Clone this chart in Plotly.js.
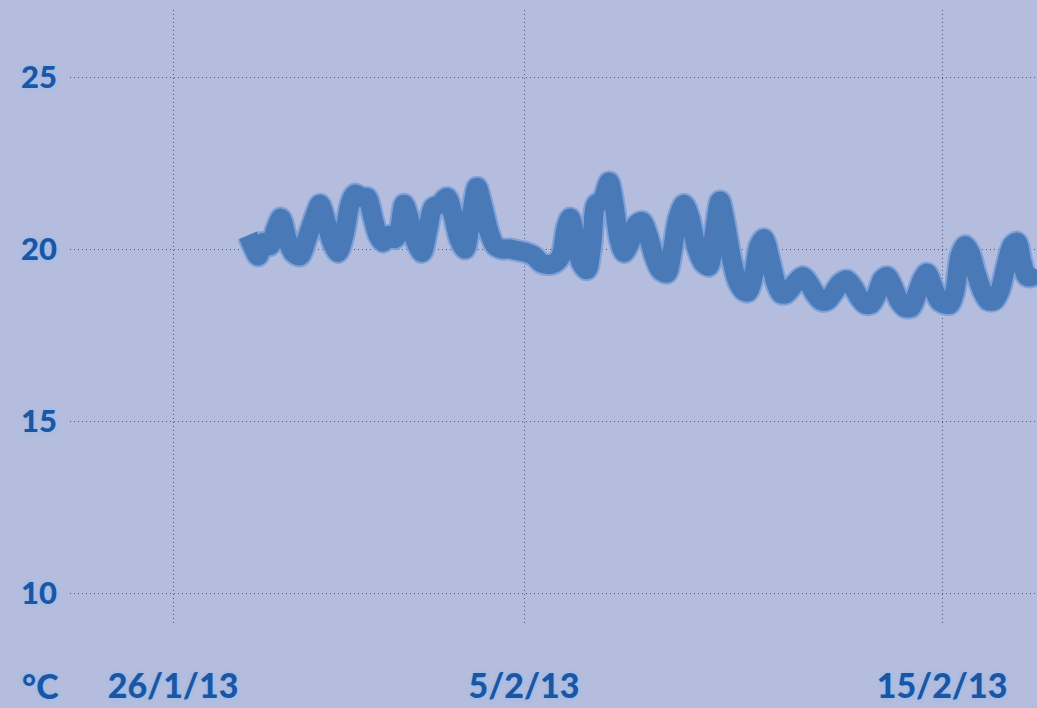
<!DOCTYPE html>
<html>
<head>
<meta charset="utf-8">
<script src="https://cdn.plot.ly/plotly-3.0.1.min.js"></script>
<style>
  html, body { margin: 0; padding: 0; background: #b4bddd; }
  #chart { width: 1037px; height: 708px; }
</style>
</head>
<body>
<div id="chart"></div>
<script>
// Reading number (position along the time axis) and temperature in °C
const readings = [178,184,188,194,200,206,211,217,223,230,237,244,250,256,262,268,274,280,285,291,297,303,308,313,319,325,329,334,340,346,352,358,363,370,377,383,389,395,401,407,413,419,425,432,440,448,456,464,471,478,485,491,496,500,505,511,517,522,526,532,539,544,549,554,560,566,572,578,584,590,597,602,608,614,620,626,633,639,644,650,655,661,667,673,678,684,689,694,700,706,711,716,722,728,733,739,745,751,757,763,770,777,783,789,795,801,807,812,817,823,829,835,841,847,852,857,863,869,875,880,885,890,895,900,906,912,918,924,930,936,942,947,952,957,962,967];
const temperature = [20.4,20.0,19.8,20.2,20.1,20.6,20.9,20.3,19.9,19.8,20.3,20.9,21.3,20.8,20.2,19.9,20.4,21.3,21.6,21.5,21.5,20.9,20.4,20.2,20.4,20.3,20.5,21.3,20.8,20.2,19.9,20.6,21.2,21.3,21.5,21.0,20.3,20.0,20.9,21.8,21.2,20.5,20.1,20.0,20.0,19.95,19.9,19.8,19.6,19.55,19.6,19.8,20.6,20.9,20.4,19.6,19.4,20.2,21.3,21.4,21.95,21.3,20.3,19.9,20.2,20.7,20.8,20.4,19.8,19.4,19.3,19.9,20.9,21.3,20.9,20.1,19.6,19.5,20.4,21.4,20.8,19.8,19.1,18.8,18.75,19.3,20.1,20.3,19.7,19.0,18.7,18.7,18.9,19.1,19.2,19.0,18.7,18.5,18.5,18.7,19.0,19.1,18.9,18.6,18.4,18.4,18.7,19.1,19.2,18.9,18.5,18.3,18.3,18.7,19.1,19.3,18.9,18.5,18.4,18.4,18.8,19.8,20.1,19.9,19.3,18.8,18.5,18.5,18.8,19.5,20.1,20.2,19.6,19.2,19.2,19.4];

const dateTickPositions = [103, 454, 872];
const dateTickLabels = ['26/1/13', '5/2/13', '15/2/13'];
const tempTicks = [10, 15, 20, 25];
const unitLabel = '°C';

const baseFont = {
  family: 'Lato, "DejaVu Sans", sans-serif',
  weight: 900,
  color: '#1b56a4',
  shadow: '0px 0px 4px #8cbaf2'
};
const yFont = Object.assign({}, baseFont, { size: 31 });
const xFont = Object.assign({}, baseFont, { size: 34 });

const traces = [
  {
    x: readings, y: temperature, type: 'scatter', mode: 'lines',
    line: { color: '#7fa2d8', width: 23, shape: 'spline', smoothing: 0.8 },
    hoverinfo: 'skip', showlegend: false
  },
  {
    x: readings, y: temperature, type: 'scatter', mode: 'lines',
    line: { color: '#4a79b8', width: 19, shape: 'spline', smoothing: 0.8 },
    name: 'Temperature', showlegend: false
  }
];

const layout = {
  width: 1037, height: 708,
  margin: { l: 70, r: 0, t: 10, b: 83 },
  paper_bgcolor: '#b4bddd',
  plot_bgcolor: '#b4bddd',
  showlegend: false,
  xaxis: {
    range: [0, 967],
    tickmode: 'array', tickvals: dateTickPositions, ticktext: dateTickLabels,
    showgrid: true, gridcolor: '#4f5778', gridwidth: 1, griddash: '1px,3px',
    zeroline: false, showline: false, ticks: '',
    tickfont: xFont, ticklabelstandoff: 38
  },
  yaxis: {
    range: [9.07, 26.95],
    tickmode: 'array', tickvals: tempTicks,
    showgrid: true, gridcolor: '#4f5778', gridwidth: 1, griddash: '1px,3px',
    zeroline: false, showline: false, ticks: '',
    tickfont: yFont, ticklabelstandoff: 12
  },
  annotations: [{
    text: unitLabel, xref: 'paper', yref: 'paper',
    x: -0.031, y: -0.098, xanchor: 'center', yanchor: 'middle',
    showarrow: false, font: xFont
  }]
};

Plotly.newPlot('chart', traces, layout, { staticPlot: true, displayModeBar: false });
</script>
</body>
</html>
